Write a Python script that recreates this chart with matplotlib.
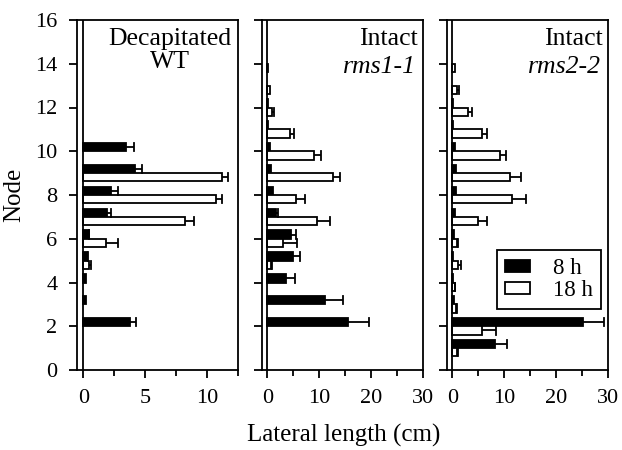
import numpy as np
import matplotlib
matplotlib.use('Agg')
import matplotlib.pyplot as plt
from matplotlib.ticker import MultipleLocator

plt.rcParams['font.family'] = ['Liberation Serif', 'DejaVu Serif']
plt.rcParams['font.size'] = 16

nodes = np.arange(1, 16)

# panel 1: decapitated WT
wt_8h = [0, 3.76, 0.2, 0.2, 0.32, 0.46, 1.94, 2.28, 4.22, 3.44, 0, 0, 0, 0, 0]
wt_8h_se = [0, 0.54, 0, 0, 0.08, 0.04, 0.34, 0.54, 0.56, 0.65, 0, 0, 0, 0, 0]
wt_18h = [0, 0, 0, 0, 0.48, 1.88, 8.25, 10.75, 11.2, 0, 0, 0, 0, 0, 0]
wt_18h_se = [0, 0, 0, 0, 0.14, 0.94, 0.7, 0.49, 0.49, 0, 0, 0, 0, 0, 0]

# panel 2: intact rms1-1
r1_8h = [0, 15.57, 11.07, 3.67, 4.95, 4.5, 1.6, 1.16, 0.77, 0.45, 0.2, 0.1, 0, 0, 0]
r1_8h_se = [0, 4.0, 3.6, 1.6, 1.3, 1.0, 0.46, 0, 0, 0, 0, 0, 0, 0, 0]
r1_18h = [0, 0, 0, 0, 0.77, 3.0, 9.5, 5.47, 12.6, 9.0, 4.3, 0.97, 0.5, 0.2, 0]
r1_18h_se = [0, 0, 0, 0, 0.1, 2.8, 2.6, 1.9, 1.36, 1.4, 0.85, 0.43, 0, 0, 0]

# panel 3: intact rms2-2
r2_8h = [8.24, 25.1, 0.4, 0.25, 0.25, 0.3, 0.5, 0.64, 0.64, 0.45, 0.2, 0.1, 0, 0, 0]
r2_8h_se = [2.4, 4.2, 0, 0, 0, 0, 0, 0, 0, 0, 0, 0, 0, 0, 0]
r2_18h = [0.97, 5.66, 0.77, 0.5, 1.1, 0.97, 4.95, 11.58, 11.07, 9.14, 5.79, 3.09, 1.0, 0.45, 0]
r2_18h_se = [0.15, 2.7, 0.15, 0.1, 0.64, 0.15, 1.8, 2.6, 2.1, 1.3, 0.97, 0.77, 0.4, 0, 0]

panels = [
    (wt_8h, wt_8h_se, wt_18h, wt_18h_se, 'Decapitated\nWT', None, (-0.5, 12.5), 5, 2.5),
    (r1_8h, r1_8h_se, r1_18h, r1_18h_se, 'Intact', 'rms1-1', (-1, 30), 10, 5),
    (r2_8h, r2_8h_se, r2_18h, r2_18h_se, 'Intact', 'rms2-2', (-1, 30), 10, 5),
]

fig = plt.figure(figsize=(6.22, 4.5), dpi=100)
lefts = [77 / 622, 262 / 622, 447 / 622]
w = 161 / 622
bot = 80 / 450
h = 350 / 450
bh = 0.38
lw = 1.3

for i, (b, bse, wv, wse, t1, t2, xl, maj, mnr) in enumerate(panels):
    ax = fig.add_axes([lefts[i], bot, w, h])
    b = np.array(b); bse = np.array(bse); wv = np.array(wv); wse = np.array(wse)
    mb = b > 0
    mw = wv > 0
    ax.barh(nodes[mb] + bh / 2, b[mb], height=bh, color='black', edgecolor='black', linewidth=lw, label='8 h')
    ax.barh(nodes[mw] - bh / 2, wv[mw], height=bh, color='white', edgecolor='black', linewidth=lw, label='18 h')
    # one-sided error bars (right side only)
    eb = bse > 0
    ax.errorbar(b[eb] + bse[eb] / 2, nodes[eb] + bh / 2, xerr=bse[eb] / 2, fmt='none', ecolor='black',
                elinewidth=lw, capsize=0)
    for x, y in zip(b[eb] + bse[eb], nodes[eb] + bh / 2):
        ax.plot([x, x], [y - bh / 2, y + bh / 2], color='black', lw=lw)
    ew = wse > 0
    ax.errorbar(wv[ew] + wse[ew] / 2, nodes[ew] - bh / 2, xerr=wse[ew] / 2, fmt='none', ecolor='black',
                elinewidth=lw, capsize=0)
    for x, y in zip(wv[ew] + wse[ew], nodes[ew] - bh / 2):
        ax.plot([x, x], [y - bh / 2, y + bh / 2], color='black', lw=lw)
    ax.axvline(0, color='black', lw=lw)
    ax.set_xlim(*xl)
    ax.set_ylim(0, 16)
    ax.yaxis.set_major_locator(MultipleLocator(2))
    ax.xaxis.set_major_locator(MultipleLocator(maj))
    ax.xaxis.set_minor_locator(MultipleLocator(mnr))
    ax.tick_params(direction='out', length=6, width=lw, pad=8, labelsize=16)
    ax.tick_params(which='minor', direction='out', length=4, width=lw)
    for s in ax.spines.values():
        s.set_linewidth(lw)
    if i == 0:
        ax.set_ylabel('Node', fontsize=18, labelpad=7)
        ax.text(0.96, 0.978, t1, transform=ax.transAxes, ha='right', va='top',
                multialignment='center', fontsize=18.5, linespacing=1.05)
    else:
        ax.set_yticklabels([])
        ax.text(0.965, 0.978, t1, transform=ax.transAxes, ha='right', va='top', fontsize=18.5)
        ax.text(0.955, 0.898, t2, transform=ax.transAxes, ha='right', va='top', fontsize=18.5,
                style='italic')
    if i == 2:
        ax.legend(loc='upper right', bbox_to_anchor=(0.955, 0.343), fancybox=False,
                  edgecolor='black', framealpha=1, fontsize=16.5, handlelength=1.1,
                  handleheight=0.4, borderpad=0.35, labelspacing=0.05, handletextpad=1.0,
                  borderaxespad=0).get_frame().set_linewidth(lw)

fig.text(0.553, 0.033, 'Lateral length (cm)', ha='center', va='center', fontsize=18)

fig.savefig('out.png', dpi=100)
